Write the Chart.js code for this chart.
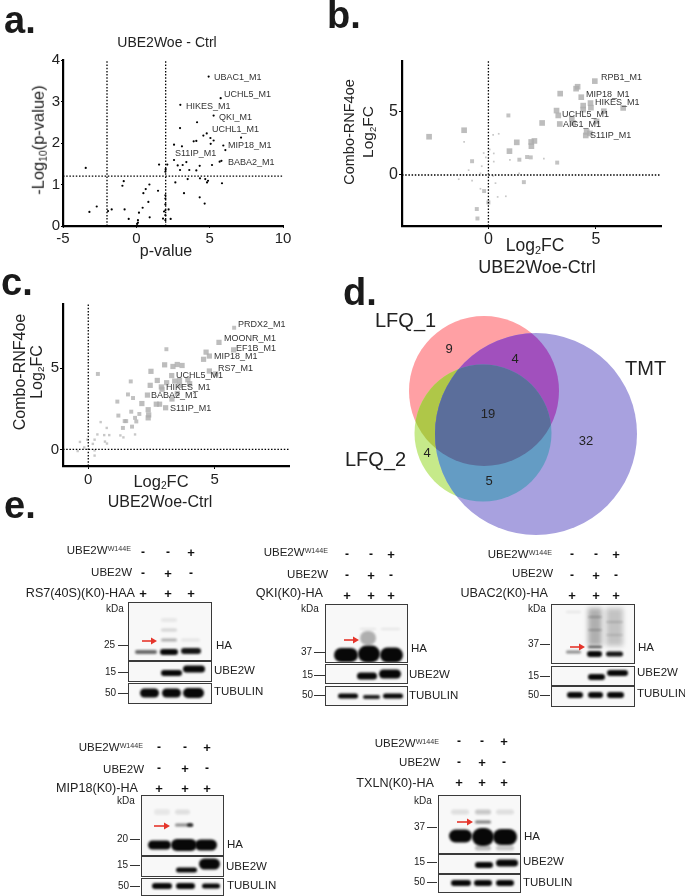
<!DOCTYPE html>
<html>
<head>
<meta charset="utf-8">
<script src="https://cdn.jsdelivr.net/npm/chart.js"></script>
<style>
  html, body { margin: 0; padding: 0; background: #fff; }
  #page { position: relative; width: 685px; height: 896px; overflow: hidden; font-family: "Liberation Sans", Arial, sans-serif; color: #222; filter: blur(0.4px); }
  #page canvas { position: absolute; }
  .t { position: absolute; white-space: nowrap; line-height: 1; }
  .t sub { font-size: 0.62em; vertical-align: -0.25em; line-height: 0; }
  .t sup { font-size: 0.62em; vertical-align: 0.45em; line-height: 0; color: #333; }
  .tick { position: absolute; height: 1px; background: #333; }
</style>
</head>
<body>
<div id="page"></div>
<script>
// panel a: volcano, pairs of log2FC / -log10(p)
const volcanoPoints = [
  [4.93,3.6],[5.75,3.08],[3.0,2.92],[5.27,2.66],[4.14,2.5],[2.98,2.36],[4.8,2.23],[4.57,2.18],[7.14,2.13],[5.05,2.12],
  [5.27,2.06],[4.09,2.05],[3.91,2.04],[2.57,1.96],[3.11,1.92],[5.07,1.98],[5.93,1.94],[6.07,1.83],[5.8,1.57],[5.68,1.55],
  [2.57,1.59],[1.55,1.48],[2.11,1.48],[2.0,1.37],[2.82,1.46],[3.16,1.47],[3.41,1.54],[4.32,1.45],[5.16,1.47],[2.98,1.35],
  [3.61,1.35],[4.09,1.34],[2.66,1.05],[3.5,1.13],[4.34,1.15],[4.7,1.13],[4.82,1.05],[4.89,1.09],[5.84,1.03],[3.25,0.79],
  [4.32,0.69],[4.66,0.54],[1.48,0.85],[0.89,1.0],[0.64,0.89],[0.48,0.79],[0.82,0.58],[0.43,0.44],[0.18,0.32],[0.91,0.21],
  [0.11,0.14],[0.11,0.08],[0.05,0.05],[-0.52,0.17],[-0.8,0.4],[-0.86,1.08],[-0.95,0.97],[-3.45,1.4],[-2.7,0.47],[-3.2,0.34],
  [-1.93,0.36],[-1.68,0.4],[1.98,0.74],[1.98,0.66],[1.98,0.38],[1.89,0.35],[2.2,0.4],[1.98,0.26],[1.82,0.18],[2.34,0.17],
  [1.98,0.14],[1.98,0.52],[1.98,1.31]
];
const volcanoLabels = ['UBAC1_M1','UCHL5_M1','HIKES_M1','QKI_M1','UCHL1_M1','MIP18_M1','S11IP_M1','BABA2_M1'];
const volcanoXTicks = [-5,0,5,10];
const volcanoYTicks = [0,1,2,3,4];
const volcanoCutX = [-2,2];
const volcanoCutY = 1.2;

// panel b, split by how strong the spot is
const bStrong = [
  [4.95,7.36],[4.15,6.92],[4.08,6.77],[3.34,6.38],[4.32,6.1],[4.75,5.64],[4.77,5.28],[4.41,5.44],[4.41,5.13],[5.37,5.0],
  [6.27,5.26],[3.17,5.05],[3.25,4.67],[5.03,4.2],[3.88,4.41],[3.94,4.08],[3.32,4.0],[2.5,4.08],[4.57,3.38],[4.72,3.26],
  [4.53,3.1],[-2.76,3.0],[-1.13,3.51],[1.32,2.56],[1.99,2.59],[2.14,2.67],[2.0,2.26],[0.98,1.87]
];
const bMedium = [
  [0.93,4.67],[1.44,1.2],[1.8,1.41],[1.97,1.38],[3.2,0.97],[-0.76,1.08],[1.65,-0.56],[-0.54,-2.67],[-0.51,-3.41],[0,-2.15],[-0.2,-1.26]
];
const bFaint = [
  [2.58,1.28],[-0.37,-1.08],[0.43,-1.72],[0.81,-1.67],[0.48,3.23],[0.22,3.15],[-1.13,2.6],[0.06,2.0],[-0.12,1.38],[0.25,1.69],
  [0.25,1.05],[-0.22,1.72],[1,1.18],[-0.92,0.38],[-0.31,0.69],[-0.37,0.13],[1.43,0.13],[-1.38,-0.33],[-0.76,-0.44],[0.33,-0.64],[0.22,-0.08]
];
const bLabels = ['RPB1_M1','MIP18_M1','HIKES_M1','UCHL5_M1','AIG1_M1','S11IP_M1'];

// panel c
const cStrong = [
  [5.17,6.58],[5.75,6.12],[4.66,5.98],[4.79,5.74],[4.56,5.54],[4.79,4.82],[5.04,4.64],[3.02,5.2],[3.35,5.1],[3.52,5.22],
  [3.71,5.16],[2.48,4.8],[3.3,4.54],[2.73,4.24],[3.1,4.1],[3.42,4.2],[3.61,4.24],[3.94,4.28],[4.01,4.04],[2.89,3.84],
  [2.92,3.7],[2.45,3.94],[3.61,3.94],[2.34,3.34],[3.31,3.1],[3.52,3.44],[2.69,2.78],[2.82,2.78],[3.06,2.56],[2.12,2.82],
  [2.37,2.44],[2.39,2.12],[2.37,1.94]
];
const cMedium = [
  [5.77,7.48],[3.09,6.16],[1.68,4.18],[1.57,3.38],[1.77,3.16],[1.15,2.94],[0.38,4.64],[1.19,2.08],[1.7,2.32],[2.02,2.18],
  [1.85,1.94],[1.9,1.72],[1.44,1.74],[1.5,1.74],[1.37,1.32],[1.73,1.4]
];
const cFaint = [
  [1.85,0.92],[1.27,0.86],[1.39,0.74],[0.49,1.68],[0.73,1.32],[0.36,0.92],[0.63,0.88],[0.83,0.88],[0.25,0.6],[0.66,0.48],
  [0.74,0.36],[-0.33,0.46],[-0.04,0.6],[-0.16,0.12],[-0.42,-0.1],[0.25,-0.06],[0.25,-0.38],[0.18,0.34]
];
const cLabels = ['PRDX2_M1','MOONR_M1','EF1B_M1','MIP18_M1','RS7_M1','UCHL5_M1','HIKES_M1','BABA2_M1','S11IP_M1'];

// panel d: circles in panel pixels, counts per region
const vennX = [154, 153, 206];
const vennY = [111, 153, 154];
const vennR = [75, 68.5, 101];
const vennNames = ['LFQ_1','LFQ_2','TMT'];
const vennCounts = [9,4,19,32,4,5];

// panel e: x0, x1, y, thickness, density inside each blot strip
const signRows = [['-','-','+'],['-','+','-'],['+','+','+']];
const rs7HA = [[6,28,49,4,.6],[31,49,49,6,1],[52,72,48,6,.95],[32,48,37,3,.3],[32,48,27,3,.15],[32,48,17,4,.07],[52,71,37,3,.08]];
const rs7E2 = [[32,53,11,6,1],[54,76,7,7,1]];
const rs7Tub = [[11,30,9,9,1],[33,52,9,9,1],[54,75,9,10,1]];
const qkiHA = [[8,32,50,14,1],[32,54,49,17,1],[54,77,50,15,1],[34,50,33,14,.3],[34,50,24,2,.08],[55,74,24,2,.08]];
const qkiE2 = [[31,51,11,7,1],[53,75,9,9,1]];
const qkiTub = [[12,32,9,5,1],[37,54,10,4,.9],[57,77,9,5,1]];
const ubacHA = [[14,29,47,3,.45],[35,50,49,6,1],[54,71,49,5,.95],[36,50,22,38,.3],[54,71,22,38,.22],[36,50,42,2,.7],[14,29,7,2,.08],[36,50,12,2,.2],[36,50,25,2,.2],[54,71,17,2,.15],[54,71,30,2,.12]];
const ubacE2 = [[36,53,10,6,1],[55,76,6,6,1]];
const ubacTub = [[15,31,8,6,1],[36,51,8,6,1],[55,72,8,6,1]];
const mipHA = [[6,29,49,9,1],[29,55,49,12,1],[53,75,49,11,1],[33,51,29,3,.45],[45,51,29,3,.9],[33,48,16,5,.1],[12,28,16,6,.07]];
const mipE2 = [[34,55,13,5,1],[57,78,7,11,1]];
const mipTub = [[10,30,7,6,1],[34,53,7,6,1],[60,78,7,5,1]];
const txlnHA = [[10,33,40,13,1],[33,55,41,18,1],[54,78,41,16,1],[36,52,26,3,.5],[36,52,16,5,.2],[12,30,16,5,.1],[57,75,16,5,.1],[36,52,52,5,.25],[57,75,52,5,.2]];
const txlnE2 = [[36,54,10,6,1],[57,79,8,7,1]];
const txlnTub = [[12,32,8,6,1],[35,53,8,6,1],[57,75,8,6,1]];

const page = document.getElementById('page');

function txt(html, x, y, size, opts) {
  opts = opts || {};
  const el = document.createElement('div');
  el.className = 't';
  el.innerHTML = html;
  el.style.left = x + 'px';
  el.style.top = y + 'px';
  el.style.fontSize = size + 'px';
  if (opts.weight) el.style.fontWeight = opts.weight;
  if (opts.color) el.style.color = opts.color;
  const ax = opts.align === 'right' ? '-100%' : opts.align === 'center' ? '-50%' : '0';
  el.style.transform = 'translate(' + ax + ',-50%)' + (opts.rotate ? ' rotate(-90deg)' : '');
  page.appendChild(el);
}

function addCanvas(x, y, w, h) {
  const c = document.createElement('canvas');
  c.width = w; c.height = h;
  c.style.left = x + 'px';
  c.style.top = y + 'px';
  page.appendChild(c);
  return c;
}

// bands get a little blur, so they read like film and not like vector strokes
Chart.register({
  id: 'bandBlur',
  beforeDatasetDraw(chart, args) {
    const ds = chart.data.datasets[args.index];
    if (ds.blur) { chart.ctx.save(); chart.ctx.filter = 'blur(' + ds.blur + 'px)'; }
  },
  afterDatasetDraw(chart, args) {
    if (chart.data.datasets[args.index].blur) chart.ctx.restore();
  }
});

const toXY = p => ({ x: p[0], y: p[1] });

function guideLines(xs, y, s) {
  const style = { type: 'scatter', showLine: true, pointRadius: 0, borderColor: '#000', borderWidth: 1.3, borderDash: [1.5, 1.7], clip: false };
  const lines = xs.map(v => Object.assign({ data: [{ x: v, y: s.yMin }, { x: v, y: s.yMax }] }, style));
  lines.push(Object.assign({ data: [{ x: s.xMin, y: y }, { x: s.xMax, y: y }] }, style));
  return lines;
}

function scatterPanel(box, s, datasets) {
  const axis = (min, max, ticks, size, isX) => ({
    type: 'linear', min: min, max: max,
    afterBuildTicks: sc => { sc.ticks = ticks.map(v => ({ value: v })); },
    afterFit: sc => { if (isX) sc.height = s.bottom; else sc.width = s.left; },
    grid: { drawOnChartArea: false, color: '#000', tickLength: s.tickLen, tickWidth: 1 },
    border: { color: '#000', width: 2.2 },
    ticks: { color: '#222', font: { family: '"Liberation Sans"', size: size }, padding: isX ? s.xPad : 1, maxRotation: 0, autoSkip: false, callback: v => v }
  });
  return new Chart(addCanvas(box[0], box[1], box[2], box[3]), {
    type: 'scatter',
    data: { datasets: datasets },
    options: {
      responsive: false, animation: false, devicePixelRatio: 1, events: [],
      layout: { autoPadding: false, padding: { top: s.top, right: s.right, left: 0, bottom: 0 } },
      plugins: { legend: { display: false }, tooltip: { enabled: false } },
      scales: { x: axis(s.xMin, s.xMax, s.xTicks, s.fontSize, true), y: axis(s.yMin, s.yMax, s.yTicks, s.fontSize, false) }
    }
  });
}

function spots(list, r, color) {
  return { data: list.map(toXY), pointStyle: 'rect', pointRadius: r, backgroundColor: color, borderWidth: 0, clip: false };
}

/* ---------- a ---------- */
txt('a.', 4, 20, 38, { weight: 700, color: '#1a1a1a' });
txt('UBE2Woe - Ctrl', 167, 42, 14, { align: 'center' });
const aScale = { xMin: -5, xMax: 10, yMin: 0, yMax: 4, xTicks: volcanoXTicks, yTicks: volcanoYTicks, left: 63, bottom: 39, top: 7, right: 17, tickLen: 2, xPad: 2, fontSize: 15 };
scatterPanel([0, 50, 300, 215], aScale,
  [{ data: volcanoPoints.map(toXY), pointRadius: 1.1, backgroundColor: '#000', borderWidth: 0, clip: false }].concat(guideLines(volcanoCutX, volcanoCutY, aScale)));
txt('-Log<sub>10</sub>(p-value)', 38, 140, 16.5, { align: 'center', rotate: true });
txt('p-value', 166, 251, 16, { align: 'center' });
const aLabelPos = [[214,77],[224,94],[186,106],[219,117],[212,129],[228,145],[175,153],[228,162]];
volcanoLabels.forEach((l, i) => txt(l, aLabelPos[i][0], aLabelPos[i][1], 9, { color: '#333' }));

/* ---------- b ---------- */
txt('b.', 327, 15, 38, { weight: 700, color: '#1a1a1a' });
const bScale = { xMin: -4.02, xMax: 8.03, yMin: -4, yMax: 8.97, xTicks: [0,5], yTicks: [0,5], left: 72, bottom: 34, top: 7, right: 14, tickLen: 3, xPad: 1, fontSize: 16 };
scatterPanel([330, 50, 345, 210], bScale,
  guideLines([0], 0, bScale).concat([
    spots(bStrong, 4, 'rgba(172,172,172,.8)'),
    spots(bMedium, 2.8, 'rgba(180,180,180,.8)'),
    spots(bFaint, 1.2, 'rgba(190,190,190,.85)')
  ]));
txt('Combo-RNF4oe', 349, 132, 14.5, { align: 'center', rotate: true });
txt('Log<sub>2</sub>FC', 368, 132, 15.5, { align: 'center', rotate: true });
txt('Log<sub>2</sub>FC', 535, 246, 17.5, { align: 'center' });
txt('UBE2Woe-Ctrl', 537, 267, 18, { align: 'center' });
const bLabelPos = [[601,77],[586,94],[595,102],[562,114],[563,124],[590,135]];
bLabels.forEach((l, i) => txt(l, bLabelPos[i][0], bLabelPos[i][1], 9, { color: '#333' }));

/* ---------- c ---------- */
txt('c.', 1, 282, 38, { weight: 700, color: '#1a1a1a' });
const cScale = { xMin: -1, xMax: 7.94, yMin: -1.02, yMax: 8.94, xTicks: [0,5], yTicks: [0,5], left: 63, bottom: 24, top: 6, right: 11, tickLen: 3, xPad: 2, fontSize: 15 };
scatterPanel([0, 294, 300, 196], cScale,
  guideLines([0], 0, cScale).concat([
    spots(cStrong, 3.7, 'rgba(172,172,172,.8)'),
    spots(cMedium, 2.8, 'rgba(178,178,178,.8)'),
    spots(cFaint, 1.7, 'rgba(190,190,190,.85)')
  ]));
txt('Combo-RNF4oe', 20, 372, 16, { align: 'center', rotate: true });
txt('Log<sub>2</sub>FC', 37, 372, 16, { align: 'center', rotate: true });
txt('Log<sub>2</sub>FC', 161, 481, 16.5, { align: 'center' });
txt('UBE2Woe-Ctrl', 160, 502, 16, { align: 'center' });
const cLabelPos = [[238,324],[224,338],[236,348],[214,356],[218,368],[176,375],[166,387],[151,395],[170,408]];
cLabels.forEach((l, i) => txt(l, cLabelPos[i][0], cLabelPos[i][1], 9, { color: '#333' }));

/* ---------- d ---------- */
txt('d.', 343, 292, 38, { weight: 700, color: '#1a1a1a' });
// each region has its own flat colour in the original, so overlaps are redrawn clipped.
// Chart.js paints the first dataset last, hence the reverse()
const vennLayers = [
  { c: 0, clip: [], color: '#ffa0a4' },
  { c: 1, clip: [], color: '#c6ea8a' },
  { c: 2, clip: [], color: '#a8a1df' },
  { c: 1, clip: [0], color: '#afc748' },
  { c: 2, clip: [0], color: '#a150bd' },
  { c: 2, clip: [1], color: '#649cc4' },
  { c: 2, clip: [0, 1], color: '#5b6e9b' }
].reverse();
new Chart(addCanvas(330, 280, 355, 256), {
  type: 'bubble',
  data: {
    datasets: vennLayers.map(l => ({
      data: [{ x: vennX[l.c], y: vennY[l.c], r: vennR[l.c] }],
      backgroundColor: l.color, borderWidth: 0, clip: false, regionClip: l.clip
    }))
  },
  options: {
    responsive: false, animation: false, devicePixelRatio: 1, events: [],
    layout: { autoPadding: false, padding: 0 },
    plugins: { legend: { display: false }, tooltip: { enabled: false } },
    scales: {
      x: { display: false, min: 0, max: 355 },
      y: { display: false, min: 0, max: 256, reverse: true }
    }
  },
  plugins: [{
    id: 'vennClip',
    beforeDatasetDraw(chart, args) {
      const ctx = chart.ctx;
      ctx.save();
      chart.data.datasets[args.index].regionClip.forEach(i => {
        ctx.beginPath();
        ctx.arc(chart.scales.x.getPixelForValue(vennX[i]), chart.scales.y.getPixelForValue(vennY[i]), vennR[i], 0, Math.PI * 2);
        ctx.clip();
      });
    },
    afterDatasetDraw(chart) { chart.ctx.restore(); }
  }]
});
const vennCountPos = [[449,348],[515,358],[488,413],[586,440],[427,452],[489,480]];
vennCounts.forEach((n, i) => txt(String(n), vennCountPos[i][0], vennCountPos[i][1], 13, { align: 'center' }));
const vennNamePos = [[375,320],[345,459],[625,368]];
vennNames.forEach((n, i) => txt(n, vennNamePos[i][0], vennNamePos[i][1], 20));

/* ---------- e ---------- */
txt('e.', 4, 505, 38, { weight: 700, color: '#1a1a1a' });

function strip(x, y, w, h, bands, arrow) {
  const sets = bands.map(b => {
    const t = b[3], wide = (b[1] - b[0]) >= t;
    const a = wide ? t / 2 : 0;
    return {
      data: [{ x: b[0] + a, y: b[2] }, { x: b[1] - a, y: b[2] }],
      showLine: true, pointRadius: 0, borderWidth: t,
      borderColor: 'rgba(8,8,8,' + b[4] + ')',
      borderCapStyle: wide ? 'round' : 'butt', blur: t > 20 ? 2.5 : 1.1
    };
  });
  if (arrow) {
    sets.unshift({
      data: [{ x: arrow[0], y: arrow[2] }, { x: arrow[1] - 3, y: arrow[2] }],
      showLine: true, borderColor: '#e5352b', borderWidth: 1.6, backgroundColor: '#e5352b',
      pointStyle: 'triangle', pointRotation: 90, pointRadius: [0, 4], pointBorderWidth: 0
    });
  }
  const c = addCanvas(x, y, w, h);
  c.style.background = '#f8f8f8';
  c.style.outline = '1.4px solid #3a3a3a';
  return new Chart(c, {
    type: 'scatter',
    data: { datasets: sets },
    options: {
      responsive: false, animation: false, devicePixelRatio: 1, events: [],
      layout: { autoPadding: false, padding: 0 },
      plugins: { legend: { display: false }, tooltip: { enabled: false } },
      scales: { x: { display: false, min: 0, max: w }, y: { display: false, min: 0, max: h, reverse: true } }
    }
  });
}

function marker(v, x, y, tx0, tx1) {
  txt(v, x, y, 10);
  const t = document.createElement('div');
  t.className = 'tick';
  t.style.left = tx0 + 'px';
  t.style.top = y + 'px';
  t.style.width = (tx1 - tx0) + 'px';
  page.appendChild(t);
}

function blot(b) {
  const rowNames = ['UBE2W<sup>W144E</sup>', 'UBE2W', b.name];
  rowNames.forEach((n, i) => {
    txt(n, b.nameRight[i], b.nameY[i], i === 2 ? 12.6 : 11.5, { align: 'right' });
    signRows[i].forEach((s, j) => txt(s, b.signX[j], b.signY[i], s === '+' ? 13 : 12, { align: 'center', weight: 700, color: '#111' }));
  });
  txt('kDa', b.kda[0], b.kda[1], 10);
  strip(b.x, b.ha[0], b.w, b.ha[1] - b.ha[0], b.haBands, b.arrow);
  strip(b.x, b.e2[0], b.w, b.e2[1] - b.e2[0], b.e2Bands);
  strip(b.x, b.tub[0], b.w, b.tub[1] - b.tub[0], b.tubBands);
  b.marks.forEach(m => marker(m[0], m[1], m[2], b.tick[0], b.tick[1]));
  txt('HA', b.right[0][0], b.right[0][1], 11.5);
  txt('UBE2W', b.right[1][0], b.right[1][1], 11.5);
  txt('TUBULIN', b.right[2][0], b.right[2][1], 11.5);
}

blot({ name: 'RS7(40S)(K0)-HAA', x: 129, w: 82, ha: [603,660], e2: [662,681], tub: [684,703],
  nameRight: [131,132,135], nameY: [551,573,593], signX: [143,168,191], signY: [552,573,593],
  kda: [106,609], tick: [118,128], marks: [['25',104,645],['15',105,672],['50',105,693]],
  right: [[216,646],[214,671],[214,692]], arrow: [13,27,38], haBands: rs7HA, e2Bands: rs7E2, tubBands: rs7Tub });
blot({ name: 'QKI(K0)-HA', x: 326, w: 81, ha: [605,662], e2: [665,683], tub: [687,705],
  nameRight: [328,328,323], nameY: [553,575,593], signX: [347,371,391], signY: [554,575,595],
  kda: [301,609], tick: [314,325], marks: [['37',301,652],['15',302,675],['50',302,695]],
  right: [[411,649],[409,675],[409,696]], arrow: [18,32,35], haBands: qkiHA, e2Bands: qkiE2, tubBands: qkiTub });
blot({ name: 'UBAC2(K0)-HA', x: 552, w: 82, ha: [605,663], e2: [667,685], tub: [687,706],
  nameRight: [552,553,548], nameY: [555,574,593], signX: [572,596,616], signY: [554,575,595],
  kda: [528,609], tick: [540,550], marks: [['37',528,644],['15',528,676],['50',528,695]],
  right: [[638,648],[637,673],[637,694]], arrow: [18,32,42], haBands: ubacHA, e2Bands: ubacE2, tubBands: ubacTub });
blot({ name: 'MIP18(K0)-HA', x: 142, w: 81, ha: [796,855], e2: [857,876], tub: [879,895],
  nameRight: [143,144,138], nameY: [748,770,788], signX: [159,185,207], signY: [747,768,788],
  kda: [117,801], tick: [130,140], marks: [['20',117,839],['15',117,865],['50',118,886]],
  right: [[227,845],[226,867],[227,886]], arrow: [12,27,30], haBands: mipHA, e2Bands: mipE2, tubBands: mipTub });
blot({ name: 'TXLN(K0)-HA', x: 439, w: 81, ha: [796,853], e2: [855,873], tub: [875,892],
  nameRight: [439,440,434], nameY: [744,763,783], signX: [459,482,504], signY: [741,762,782],
  kda: [414,801], tick: [427,437], marks: [['37',414,827],['15',414,862],['50',414,882]],
  right: [[524,837],[523,862],[523,883]], arrow: [18,33,26], haBands: txlnHA, e2Bands: txlnE2, tubBands: txlnTub });
</script>
</body>
</html>
